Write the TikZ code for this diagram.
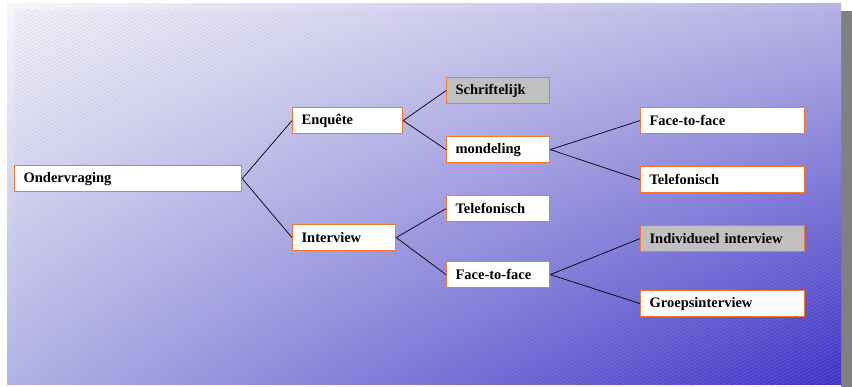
\documentclass[tikz,border=0pt]{standalone}
\usepackage{fontspec}
\setmainfont{Liberation Serif}
\usepackage{xcolor}
\usetikzlibrary{arrows.meta, positioning, calc, shadings}
\definecolor{frameor}{RGB}{250,120,40}
\definecolor{boxgray}{RGB}{192,192,192}
\definecolor{bgul}{RGB}{246,246,250}
\definecolor{bgur}{RGB}{184,180,230}
\definecolor{bgll}{RGB}{178,178,230}
\definecolor{bglr}{RGB}{58,46,200}
\definecolor{hatch}{RGB}{165,165,205}

\begin{document}
\begin{tikzpicture}[x=1pt, y=-1pt,
    bx/.style={draw=frameor, line width=1.2pt, fill=white, anchor=north west,
               font=\fontsize{14.5}{16}\selectfont\bfseries, align=left,
               inner xsep=9pt, inner ysep=2pt, minimum height=26pt},
    hl/.style={bx, fill=boxgray},
    conn/.style={black, line width=0.7pt}]
  \useasboundingbox (0,0) rectangle (852,387);
  % slide background
  \fill[gray] (841,11) rectangle (852,387);
  \shade[upper left=bgul, upper right=bgur, lower left=bgll, lower right=bglr]
    (7,4) rectangle (841,385);
  \begin{scope}
    \clip (15,10) rectangle (841,385);
    \foreach \y in {0,3.4,...,840}
      \draw[hatch, opacity=0.25, line width=0.8pt] (15,\y) -- ++(830,-423);
  \end{scope}
  % tree
  \node[bx, text width=209pt] (ond) at (14,165) {Ondervraging};
  \node[bx, text width=92pt] (enq) at (292,107) {Enquête};
  \node[bx, text width=85pt] (int) at (292,224) {Interview};
  \node[hl, text width=85pt] (schr) at (446,77) {Schriftelijk};
  \node[bx, text width=85pt] (mond) at (446,136) {mondeling};
  \node[bx, text width=85pt] (tel) at (446,195) {Telefonisch};
  \node[bx, text width=85pt] (f2f) at (446,261) {Face-to-face};
  \node[bx, text width=146pt] (mf2f) at (640,107) {Face-to-face};
  \node[bx, text width=146pt] (mtel) at (640,166) {Telefonisch};
  \node[hl, text width=146pt] (ind) at (640,225) {Individueel interview};
  \node[bx, text width=146pt] (grp) at (640,290) {Groepsinterview};
  \foreach \n in {enq,int} \draw[conn] (ond.east) -- (\n.west);
  \foreach \n in {schr,mond} \draw[conn] (enq.east) -- (\n.west);
  \foreach \n in {tel,f2f} \draw[conn] (int.east) -- (\n.west);
  \foreach \n in {mf2f,mtel} \draw[conn] (mond.east) -- (\n.west);
  \foreach \n in {ind,grp} \draw[conn] (f2f.east) -- (\n.west);
\end{tikzpicture}
\end{document}
